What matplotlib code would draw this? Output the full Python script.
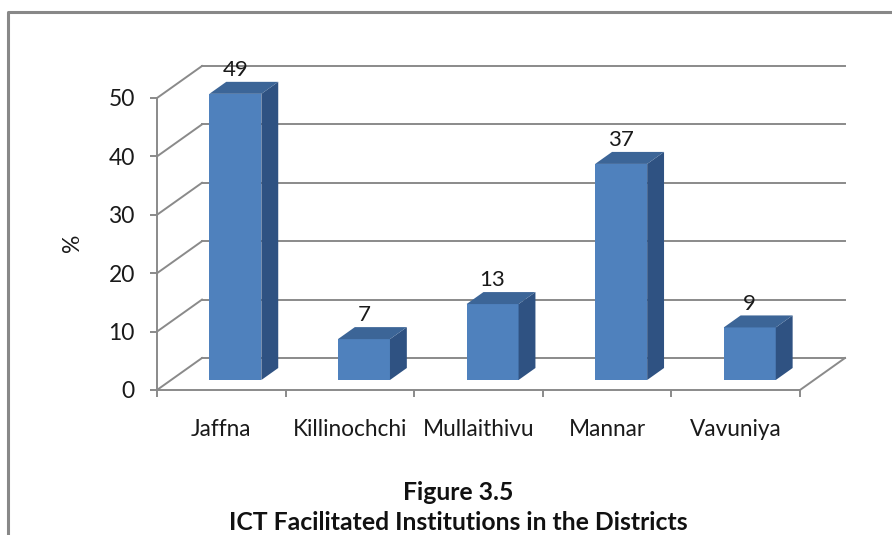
import matplotlib
matplotlib.use("Agg")
import matplotlib.pyplot as plt
from matplotlib.patches import Polygon
from matplotlib.lines import Line2D

plt.rcParams['font.family'] = ['Lato', 'DejaVu Sans']

categories = ["Jaffna", "Killinochchi", "Mullaithivu", "Mannar", "Vavuniya"]
values = [49, 7, 13, 37, 9]
yticks = [0, 10, 20, 30, 40, 50]
title_lines = ["Figure 3.5", "ICT Facilitated Institutions in the Districts"]
ylabel = "%"

W, H = 892, 535
fig = plt.figure(figsize=(W / 100, H / 100), dpi=100)

# plot area (front plane) in pixels
left, right, top, bottom = 157, 800, 98, 390
ax = fig.add_axes([left / W, 1 - bottom / H, (right - left) / W, (bottom - top) / H])
n = len(categories)
ax.set_xlim(0, n)
ax.set_ylim(0, 50)

# 3D depth offset (data units)
px_per_cat = (right - left) / n
px_per_unit = (bottom - top) / 50
DX = 45 / px_per_cat
DY = 32 / px_per_unit
t1, t2 = 10 / 32, 22 / 32
BW = 52 / px_per_cat

grid_c = '#8a8a8a'
lw = 1.4
txt_c = '#1a1a1a'

# back wall gridlines and side wall lines
for v in yticks:
    ax.add_line(Line2D([DX, n + DX], [v + DY, v + DY], color=grid_c, lw=lw, clip_on=False, zorder=1))
    ax.add_line(Line2D([0, DX], [v, v + DY], color=grid_c, lw=lw, clip_on=False, zorder=1))
# floor right edge
ax.add_line(Line2D([n, n + DX], [0, DY], color=grid_c, lw=lw, clip_on=False, zorder=1))

front_c = '#4F81BD'
top_c = '#3C6597'
side_c = '#2F5282'
ddx, ddy = (t2 - t1) * DX, (t2 - t1) * DY
for i, v in enumerate(values):
    x0 = i + 0.5 - BW / 2 + t1 * DX
    y0 = t1 * DY
    front = Polygon([(x0, y0), (x0 + BW, y0), (x0 + BW, y0 + v), (x0, y0 + v)],
                    closed=True, fc=front_c, ec='none', zorder=3, clip_on=False)
    side = Polygon([(x0 + BW, y0), (x0 + BW + ddx, y0 + ddy), (x0 + BW + ddx, y0 + v + ddy), (x0 + BW, y0 + v)],
                   closed=True, fc=side_c, ec='none', zorder=3, clip_on=False)
    topf = Polygon([(x0, y0 + v), (x0 + ddx, y0 + v + ddy), (x0 + BW + ddx, y0 + v + ddy), (x0 + BW, y0 + v)],
                   closed=True, fc=top_c, ec='none', zorder=3, clip_on=False)
    for p in (front, side, topf):
        ax.add_patch(p)
    ax.text(x0 + BW / 2, y0 + v + ddy + 2.0, str(v), ha='center', va='center',
            fontsize=16, color=txt_c, zorder=4)

# axes styling
for s in ('top', 'right'):
    ax.spines[s].set_visible(False)
for s in ('left', 'bottom'):
    ax.spines[s].set_color(grid_c)
    ax.spines[s].set_linewidth(lw)
    ax.spines[s].set_zorder(2)
ax.set_yticks(yticks)
ax.set_yticklabels([str(t) for t in yticks])
ax.tick_params(axis='y', length=5, width=lw, color=grid_c, pad=11, labelsize=16.5, labelcolor=txt_c)
ax.set_xticks(range(n + 1))
ax.set_xticklabels([''] * (n + 1))
ax.tick_params(axis='x', which='major', length=5, width=lw, color=grid_c)
ax.set_xticks([i + 0.5 for i in range(n)], minor=True)
ax.set_xticklabels(categories, minor=True)
ax.tick_params(axis='x', which='minor', length=0, pad=21, labelsize=16.3, labelcolor=txt_c)
ax.patch.set_visible(False)

ax.set_ylabel(ylabel, fontsize=16.5, color=txt_c)
ax.yaxis.set_label_coords((83 - left) / (right - left), (bottom - 243) / (bottom - top))

# titles
fig.text(458 / W, 1 - 493 / H, title_lines[0], ha='center', va='center', fontsize=17.8, fontweight='bold', color='#111111')
fig.text(458 / W, 1 - 522 / H, title_lines[1], ha='center', va='center', fontsize=17.8, fontweight='bold', color='#111111')

# outer frame
fig.add_artist(Line2D([8 / W, 8 / W, 1.0], [0, 1 - 12 / H, 1 - 12 / H], transform=fig.transFigure,
                      color='#888888', lw=2.2))

fig.savefig("out.png", dpi=100)
